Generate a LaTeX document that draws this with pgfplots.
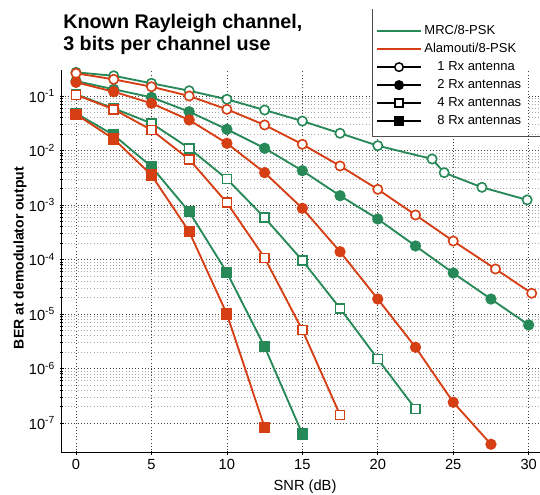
\documentclass[border=0pt]{standalone}
\usepackage{pgfplots}
\pgfplotsset{compat=1.18}
\usepackage{fontspec}
\setmainfont{Liberation Sans}
\definecolor{mrc}{RGB}{40,137,88}
\definecolor{ala}{RGB}{214,62,20}

\begin{document}
\begin{tikzpicture}
% frame of the whole picture, axis box lower-left corner at (0,0)
\clip (-46.275pt,-31.725pt) rectangle (358.725pt,339.525pt);
\begin{axis}[
    name=ax,
    scale only axis,
    width=358.725pt, height=287.025pt,
    ymode=log,
    xmin=-0.948, xmax=30.75,
    ymin=2.85e-8, ymax=0.3,
    axis lines=left,
    axis line style={-, line width=0.6pt},
    clip=false,
    xtick={0,5,...,30},
    ytick={1e-7,1e-6,1e-5,1e-4,1e-3,1e-2,1e-1},
    yticklabels={10\textsuperscript{-7},10\textsuperscript{-6},10\textsuperscript{-5},10\textsuperscript{-4},10\textsuperscript{-3},10\textsuperscript{-2},10\textsuperscript{-1}},
    /pgf/number format/assume math mode=true,
    tick label style={font=\fontsize{11}{13}\selectfont},
    major tick length=3pt, minor tick length=2pt,
    tick style={black, line width=0.5pt},
    xmajorgrids, ymajorgrids, yminorgrids,
    major grid style={dotted, black!75, line width=0.5pt},
    minor grid style={dotted, black!35, line width=0.4pt},
    legend style={at={(rel axis cs:0.6488,0.8257)}, anchor=south west,
        draw=none, fill=white, inner xsep=3pt, inner ysep=5pt,
        row sep=0.5pt,
        font=\fontsize{9.75}{11}\selectfont,
        nodes={text height=7.5pt, text depth=2.5pt, inner ysep=1.5pt}},
    legend cell align=left,
    legend image code/.code={\draw[mark repeat=2,mark phase=2,#1] plot coordinates {(0pt,0pt) (16.5pt,0pt) (33pt,0pt)};},
    every axis plot/.append style={line width=1.4pt},
]
% legend entries
\addlegendimage{mrc, line width=1pt}
\addlegendentry{MRC/8-PSK}
\addlegendimage{ala, line width=1pt}
\addlegendentry{Alamouti/8-PSK}
\addlegendimage{black, line width=1.1pt, mark=*, mark size=3.2pt, mark options={fill=white}}
\addlegendentry{\hspace{9.75pt}1 Rx antenna}
\addlegendimage{black, line width=1.1pt, mark=*, mark size=3.2pt}
\addlegendentry{\hspace{9.75pt}2 Rx antennas}
\addlegendimage{black, line width=1.1pt, mark=square*, mark size=3pt, mark options={fill=white}}
\addlegendentry{\hspace{9.75pt}4 Rx antennas}
\addlegendimage{black, line width=1.1pt, mark=square*, mark size=3pt}
\addlegendentry{\hspace{9.75pt}8 Rx antennas}

% MRC/8-PSK
\addplot[mrc, mark=*, mark size=3.5pt, mark options={fill=white, line width=1.2pt}] coordinates {
  (0,0.272) (2.5,0.235) (5,0.171) (7.5,0.125) (10,0.087) (12.5,0.0553) (15,0.0347)
  (17.5,0.0207) (20,0.01225) (23.6,0.00698) (24.4,0.00392) (26.9,0.00211) (29.9,0.00124)};
\addplot[mrc, mark=*, mark size=3.5pt] coordinates {
  (0,0.188) (2.5,0.133) (5,0.0946) (7.5,0.0515) (10,0.0245) (12.5,0.011) (15,0.00426)
  (17.5,0.00148) (20,5.53e-4) (22.5,1.77e-4) (25,5.65e-5) (27.5,1.88e-5) (30,6.3e-6)};
\addplot[mrc, mark=square*, mark size=3.4pt, mark options={fill=white, line width=1.2pt}] coordinates {
  (0,0.107) (2.5,0.0594) (5,0.0316) (7.5,0.011) (10,0.0030) (12.5,5.85e-4) (15,9.6e-5)
  (17.5,1.27e-5) (20,1.49e-6) (22.5,1.81e-7)};
\addplot[mrc, mark=square*, mark size=3.5pt] coordinates {
  (0,0.0482) (2.5,0.0192) (5,0.00505) (7.5,7.5e-4) (10,5.8e-5) (12.5,2.5e-6) (15,6.3e-8)};

% Alamouti/8-PSK
\addplot[ala, mark=*, mark size=3.5pt, mark options={fill=white, line width=1.2pt}] coordinates {
  (0,0.261) (2.5,0.202) (5,0.148) (7.5,0.1) (10,0.057) (12.5,0.0294) (15,0.0130)
  (17.5,0.0052) (20,0.00194) (22.5,6.56e-4) (25,2.18e-4) (27.8,6.7e-5) (30.2,2.4e-5)};
\addplot[ala, mark=*, mark size=3.5pt] coordinates {
  (0,0.178) (2.5,0.12) (5,0.0735) (7.5,0.0363) (10,0.01355) (12.5,0.00392) (15,8.7e-4)
  (17.5,1.39e-4) (20,1.88e-5) (22.5,2.45e-6) (25,2.4e-7) (27.5,4.07e-8)};
\addplot[ala, mark=square*, mark size=3.4pt, mark options={fill=white, line width=1.2pt}] coordinates {
  (0,0.105) (2.5,0.057) (5,0.0238) (7.5,0.0069) (10,0.0011) (12.5,1.07e-4) (15,5.08e-6)
  (17.5,1.40e-7)};
\addplot[ala, mark=square*, mark size=3.5pt] coordinates {
  (0,0.0461) (2.5,0.0163) (5,0.00355) (7.5,3.24e-4) (10,1.0e-5) (12.5,8.3e-8)};
\end{axis}
% legend frame (left and bottom edges only)
\draw[black!70, line width=0.6pt] (232.7pt,332.8pt) -- (232.7pt,237pt) -- (358.725pt,237pt);
% title (anchored at the baseline of its second line)
\node[anchor=base west, align=left, inner sep=0pt, font=\fontsize{14.8}{16.5}\selectfont\bfseries]
  at (1pt,302pt) {Known Rayleigh channel,\\3 bits per channel use};
% axis labels
\node[anchor=base, inner sep=0pt, font=\fontsize{11}{13}\selectfont] at (182.5pt,-28.5pt) {SNR (dB)};
\node[rotate=90, anchor=center, inner sep=0pt, font=\fontsize{10.5}{12}\selectfont\bfseries]
  at (-31.3pt,146pt) {BER at demodulator output};
\end{tikzpicture}
\end{document}
